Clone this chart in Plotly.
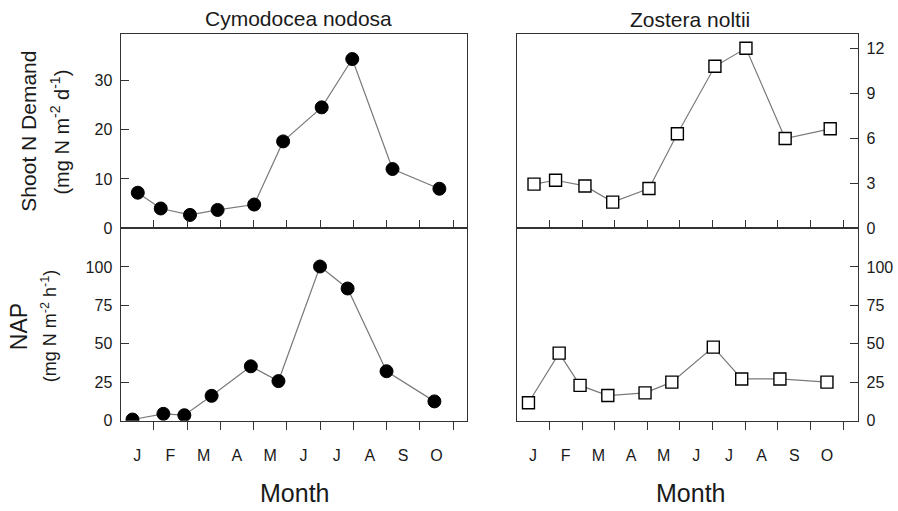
import plotly.graph_objects as go

W, H = 898, 511

month_labels = ["J", "F", "M", "A", "M", "J", "J", "A", "S", "O"]
month_label_pos = [0.5, 1.5, 2.5, 3.5, 4.5, 5.5, 6.5, 7.5, 8.5, 9.5]
month_bounds = [1, 2, 3, 4, 5, 6, 7, 8, 9, 10]

# sampling time (months from 1 Jan) and values
cym_demand_t = [0.52, 1.21, 2.09, 2.92, 4.02, 4.89, 6.05, 6.97, 8.18, 9.59]
cym_demand = [7.2, 4.0, 2.7, 3.7, 4.8, 17.6, 24.5, 34.3, 12.0, 8.0]
cym_nap_t = [0.36, 1.29, 1.92, 2.74, 3.92, 4.75, 6.0, 6.83, 8.0, 9.44]
cym_nap = [0.8, 4.5, 3.6, 16.2, 35.4, 25.8, 100.3, 86.0, 32.2, 12.6]
zos_demand_t = [0.53, 1.19, 2.09, 2.94, 4.05, 4.92, 6.07, 7.02, 8.22, 9.6]
zos_demand = [2.94, 3.2, 2.82, 1.74, 2.65, 6.3, 10.8, 12.0, 5.98, 6.63]
zos_nap_t = [0.36, 1.3, 1.94, 2.79, 3.93, 4.75, 6.02, 6.89, 8.06, 9.5]
zos_nap = [11.7, 44.0, 23.0, 16.4, 18.1, 25.1, 47.9, 27.2, 27.2, 25.1]

demand_ticks_cym = [0, 10, 20, 30]
demand_ticks_zos = [0, 3, 6, 9, 12]
nap_ticks = [0, 25, 50, 75, 100]

FONT = "Liberation Sans, Arial, sans-serif"
INK = "#1a1a1a"
LINE = "#7a7a7a"
AX = "#333333"

def px(x):
    return x / W

def py(y):
    return 1 - y / H

LX = [px(120.5), px(467)]
RX = [px(516.7), px(858.3)]
TY = [py(232.3), py(35)]
BY = [py(428.3), py(232.3)]

fig = go.Figure()

circle = dict(symbol="circle", size=13, color="black", line=dict(color="black", width=1))
square_fill = dict(symbol="square", size=12, color="white", line=dict(color="black", width=1.4))

fig.add_trace(go.Scatter(x=cym_demand_t, y=cym_demand, xaxis="x", yaxis="y",
                         mode="lines+markers", line=dict(color=LINE, width=1.2), marker=circle))
fig.add_trace(go.Scatter(x=zos_demand_t, y=zos_demand, xaxis="x2", yaxis="y2",
                         mode="lines+markers", line=dict(color=LINE, width=1.2), marker=square_fill))
fig.add_trace(go.Scatter(x=cym_nap_t, y=cym_nap, xaxis="x3", yaxis="y3",
                         mode="lines+markers", line=dict(color=LINE, width=1.2), marker=circle))
fig.add_trace(go.Scatter(x=zos_nap_t, y=zos_nap, xaxis="x4", yaxis="y4",
                         mode="lines+markers", line=dict(color=LINE, width=1.2), marker=square_fill))

def xaxis(domain, anchor, rng, bottom):
    d = dict(domain=domain, anchor=anchor, range=rng, showgrid=False, zeroline=False,
             showline=True, linecolor=AX, linewidth=1, mirror=True,
             tickfont=dict(family=FONT, size=16, color=INK))
    if bottom:
        d.update(tickmode="array", tickvals=month_label_pos, ticktext=month_labels,
                 ticks="", ticklabelstandoff=20,
                 minor=dict(tickmode="array", tickvals=month_bounds, ticks="outside",
                            ticklen=8, tickwidth=1, tickcolor=AX, showgrid=False))
    else:
        d.update(showticklabels=False, tickmode="array", tickvals=[], ticks="",
                 minor=dict(tickmode="array", tickvals=month_bounds, ticks="inside",
                            ticklen=8, tickwidth=1, tickcolor=AX, showgrid=False))
    return d

def yaxis(domain, anchor, rng, vals, side):
    return dict(domain=domain, anchor=anchor, range=rng, side=side, showgrid=False,
                zeroline=False, showline=True, linecolor=AX, linewidth=1, mirror=True,
                tickmode="array", tickvals=vals, ticks="inside", ticklen=8,
                tickwidth=1, tickcolor=AX, ticklabelstandoff=4,
                tickfont=dict(family=FONT, size=16, color=INK))

fig.update_layout(
    width=W, height=H, margin=dict(l=0, r=0, t=0, b=0),
    paper_bgcolor="white", plot_bgcolor="white", showlegend=False,
    xaxis=xaxis(LX, "y", [0, 10.42], False),
    xaxis2=xaxis(RX, "y2", [0, 10.46], False),
    xaxis3=xaxis(LX, "y3", [0, 10.42], True),
    xaxis4=xaxis(RX, "y4", [0, 10.46], True),
    yaxis=yaxis(TY, "x", [0, 39.3], demand_ticks_cym, "left"),
    yaxis2=yaxis(TY, "x2", [0, 12.93], demand_ticks_zos, "right"),
    yaxis3=yaxis(BY, "x3", [0, 125.2], nap_ticks, "left"),
    yaxis4=yaxis(BY, "x4", [0, 125.2], nap_ticks, "right"),
)

def ann(text, x, y, size, angle=0):
    fig.add_annotation(text=text, x=px(x), y=py(y), xref="paper", yref="paper",
                       xanchor="center", yanchor="middle", showarrow=False,
                       textangle=angle, font=dict(family=FONT, size=size, color=INK))

ann("Cymodocea nodosa", 298, 19, 21)
ann("Zostera noltii", 690, 20, 21)
ann("Shoot N Demand", 29, 134, 21, -90)
ann("(mg N m<sup>-2</sup> d<sup>-1</sup>)", 60, 135, 20, -90)
ann("NAP", 19, 333, 23, -90)
ann("(mg N m<sup>-2</sup> h<sup>-1</sup>)", 49, 332, 18, -90)
ann("Month", 294, 502, 25)
ann("Month", 690, 502, 25)

fig.write_html("out.html")
